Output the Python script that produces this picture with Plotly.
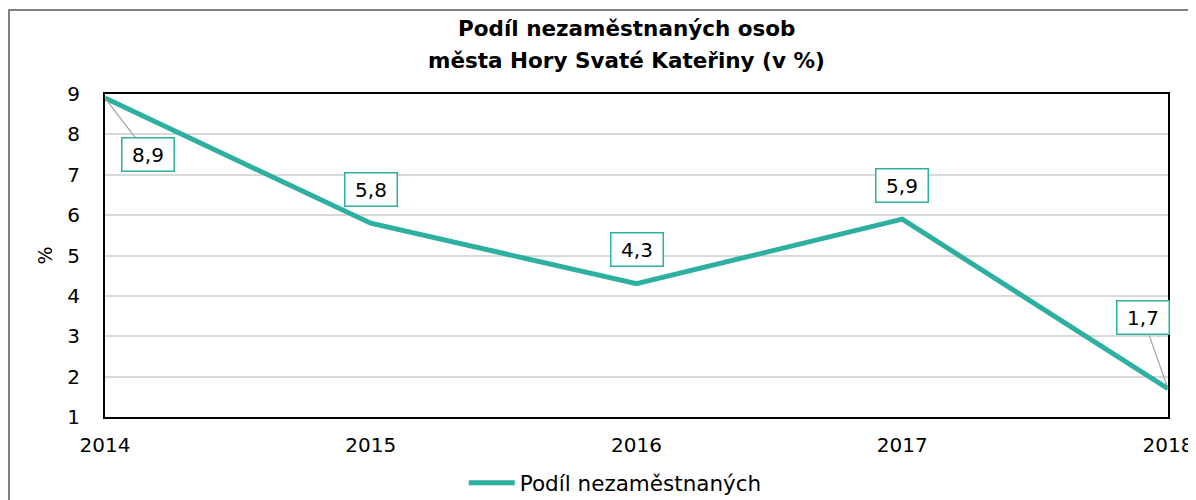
import plotly.graph_objects as go

years = [2014, 2015, 2016, 2017, 2018]
share = [8.9, 5.8, 4.3, 5.9, 1.7]
labels = ["8,9", "5,8", "4,3", "5,9", "1,7"]

TEAL = "#2EB0A1"
FONT = "DejaVu Sans"

# posun popisků v px (jen styl)
offsets = [(43, 56), (0, -34), (0, -34), (0, -34), (-25, -71)]
arrows = [True, False, False, False, True]

fig = go.Figure()

fig.add_trace(
    go.Scatter(
        x=years,
        y=share,
        mode="lines",
        name="Podíl nezaměstnaných",
        line=dict(color=TEAL, width=5),
    )
)

for x, y, t, (dx, dy), arr in zip(years, share, labels, offsets, arrows):
    box = dict(
        bordercolor=TEAL, borderwidth=1.5, borderpad=4, bgcolor="white",
        width=43, font=dict(family=FONT, size=20, color="black"),
    )
    if arr:
        fig.add_annotation(
            x=x, y=y, text=t, showarrow=True, ax=dx, ay=dy,
            arrowhead=0, arrowwidth=1.2, arrowcolor="#A6A6A6", **box
        )
    else:
        fig.add_annotation(x=x, y=y, text=t, showarrow=False, yshift=-dy, **box)

# nadpis ve dvou řádcích
fig.add_annotation(
    text="<b>Podíl nezaměstnaných osob</b>", xref="paper", yref="paper",
    x=0.491, y=1 + (94 - 29) / 323, showarrow=False, yanchor="middle",
    font=dict(family=FONT, size=21.5, color="black"),
)
fig.add_annotation(
    text="<b>města Hory Svaté Kateřiny (v %)</b>", xref="paper", yref="paper",
    x=0.491, y=1 + (94 - 60) / 323, showarrow=False, yanchor="middle",
    font=dict(family=FONT, size=21.5, color="black"),
)

# vnější rámeček grafu
fig.add_shape(
    type="rect", xref="paper", yref="paper",
    x0=-0.0903, x1=1.0254, y0=-0.3, y1=1 + (94 - 10) / 323,
    line=dict(color="#595959", width=1.5), layer="below",
)

# stránka má okraj 8 px, proto 1188x492
fig.update_layout(
    width=1188,
    height=492,
    paper_bgcolor="white",
    plot_bgcolor="white",
    margin=dict(l=97, r=28, t=86, b=83, autoexpand=False),
    font=dict(family=FONT, size=20, color="black"),
    showlegend=True,
    legend=dict(
        orientation="h", x=0.48, xanchor="center",
        yref="container", y=0.035, yanchor="middle",
        font=dict(family=FONT, size=21.5), itemwidth=46,
    ),
    xaxis=dict(
        range=[2014, 2018],
        tickvals=years,
        ticktext=[str(v) for v in years],
        showgrid=False,
        showline=True, linecolor="black", linewidth=2, mirror=True,
        ticks="", zeroline=False, automargin=False,
        ticklabelstandoff=9,
    ),
    yaxis=dict(
        range=[1, 9],
        dtick=1,
        showgrid=True, gridcolor="#D9D9D9", gridwidth=1.5,
        showline=True, linecolor="black", linewidth=2, mirror=True,
        ticks="", zeroline=False, automargin=False,
        ticklabelstandoff=19,
        title=dict(text="%", standoff=10, font=dict(size=19)),
    ),
)

fig.write_html("out.html")
